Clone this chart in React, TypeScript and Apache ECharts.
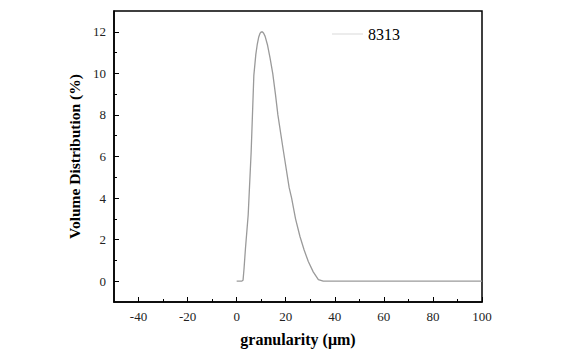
import React, { useEffect, useRef } from "react";
import * as echarts from "echarts";

const seriesName = "8313";
const granularity = [0, 1, 2, 2.6, 3, 3.6, 4.7, 5.9, 7.0, 7.8, 8.4, 9.0, 9.5, 10.0, 10.45, 11.0, 11.6, 12.6, 13.6, 14.7, 15.8, 16.8, 19.0, 21.4, 22.4, 24.0, 25.8, 27.5, 29.2, 31.2, 33.3, 35.3, 40, 50, 60, 70, 80, 90, 100];
const volume = [0, 0, 0, 0.05, 0.6, 1.6, 3.2, 6.2, 9.9, 10.9, 11.4, 11.75, 11.92, 11.99, 12.0, 11.93, 11.78, 11.35, 10.75, 10.0, 9.0, 8.0, 6.3, 4.5, 4.0, 3.0, 2.15, 1.5, 0.95, 0.45, 0.08, 0, 0, 0, 0, 0, 0, 0, 0];
const xMajorTicks = [-40, -20, 0, 20, 40, 60, 80, 100];
const xMinorTicks = [-30, -10, 10, 30, 50, 70, 90];
const yMajorTicks = [0, 2, 4, 6, 8, 10, 12];
const yMinorTicks = [1, 3, 5, 7, 9, 11];

const FONT = "Liberation Serif";

export default function App() {
  const ref = useRef<HTMLDivElement>(null);
  useEffect(() => {
    if (!ref.current) return;
    const chart = echarts.init(ref.current, null, { renderer: "svg" });
    const lineStyle = { color: "#000", width: 1.5 };
    const legendText = { fontFamily: FONT, fontSize: 16, color: "#000" };
    chart.setOption({
      animation: false,
      backgroundColor: "#fff",
      textStyle: { fontFamily: FONT },
      grid: {
        left: 114,
        right: 90,
        top: 11,
        bottom: 47,
        show: true,
        borderColor: "#000",
        borderWidth: 1.5,
        backgroundColor: "transparent",
      },
      legend: {
        left: 327,
        top: 21,
        itemWidth: 31,
        itemHeight: 14,
        itemGap: 8,
        data: [{ name: seriesName, icon: "path://M0,0 L10,0 L10,0.12 L0,0.12 Z", textStyle: legendText }],
        textStyle: legendText,
      },
      xAxis: [
        {
          type: "value",
          min: -50,
          max: 100,
          position: "bottom",
          name: "granularity (\u03bcm)",
          nameLocation: "middle",
          nameGap: 29,
          nameTextStyle: { fontFamily: FONT, fontSize: 16, fontWeight: "bold", color: "#000" },
          axisLine: { show: true, onZero: false, lineStyle },
          axisTick: { show: true, inside: true, length: 5, lineStyle: { color: "#000", width: 1 }, customValues: xMajorTicks },
          axisLabel: { fontFamily: FONT, fontSize: 13, color: "#222", margin: 8, customValues: xMajorTicks },
          splitLine: { show: false },
        },
        {
          type: "value",
          min: -50,
          max: 100,
          position: "bottom",
          axisLine: { show: false, onZero: false },
          axisTick: { show: true, inside: true, length: 3, lineStyle: { color: "#000", width: 1 }, customValues: xMinorTicks },
          axisLabel: { show: false },
          splitLine: { show: false },
        },
      ],
      yAxis: [
        {
          type: "value",
          min: -1,
          max: 13,
          position: "left",
          name: "Volume Distribution (%)",
          nameLocation: "middle",
          nameGap: 26,
          nameTextStyle: { fontFamily: FONT, fontSize: 15.5, fontWeight: "bold", color: "#000" },
          axisLine: { show: true, onZero: false, lineStyle },
          axisTick: { show: true, inside: true, length: 5, lineStyle: { color: "#000", width: 1 }, customValues: yMajorTicks },
          axisLabel: { fontFamily: FONT, fontSize: 13, color: "#222", margin: 8, customValues: yMajorTicks },
          splitLine: { show: false },
        },
        {
          type: "value",
          min: -1,
          max: 13,
          position: "left",
          axisLine: { show: false, onZero: false },
          axisTick: { show: true, inside: true, length: 3, lineStyle: { color: "#000", width: 1 }, customValues: yMinorTicks },
          axisLabel: { show: false },
          splitLine: { show: false },
        },
      ],
      series: [
        {
          name: seriesName,
          type: "line",
          xAxisIndex: 0,
          yAxisIndex: 0,
          symbol: "none",
          smooth: false,
          lineStyle: { color: "#9a9a9a", width: 1.3 },
          itemStyle: { color: "#9a9a9a" },
          data: granularity.map((g, i) => [g, volume[i]]),
        },
      ],
    });
    return () => chart.dispose();
  }, []);
  return (
    <div
      ref={ref}
      style={{ position: "fixed", left: 0, top: 0, width: 572, height: 352, background: "#fff" }}
    />
  );
}
